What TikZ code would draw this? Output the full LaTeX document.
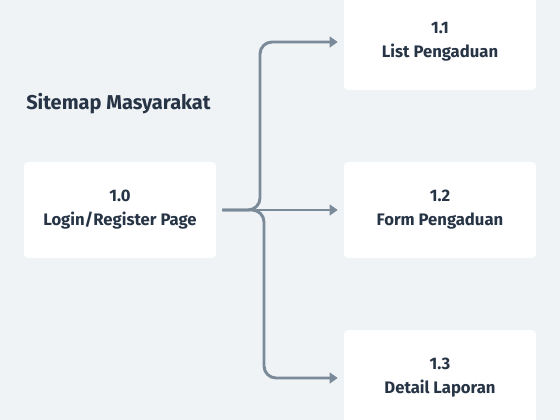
\documentclass[tikz,border=0pt]{standalone}
\usepackage{fontspec}
\setmainfont{Fira Sans}
\usetikzlibrary{arrows.meta}

\definecolor{pagebg}{RGB}{239,243,246}
\definecolor{inktext}{RGB}{38,52,69}
\definecolor{linkgray}{RGB}{123,138,153}

\tikzset{
  page/.style={fill=white, rounded corners=3pt, minimum width=144pt, minimum height=72pt,
    align=center, text=inktext, font=\bfseries\fontsize{12.5}{18}\selectfont},
  link/.style={draw=linkgray, line width=2.2pt, rounded corners=9pt,
    -{Triangle[length=6pt,width=8pt]}},
}

\begin{document}
\begin{tikzpicture}[x=0.75pt,y=0.75pt,yscale=-1,xscale=1]
% background and frame
\fill[pagebg] (0,0) rectangle (560,420);
\useasboundingbox (0,0) rectangle (560,420);

% Title
\node[anchor=west, text=inktext, font=\bfseries\fontsize{15}{18}\selectfont, inner sep=0pt] (title) at (26,104) {Sitemap Masyarakat};

% Pages
\node[page] (main) at (120,210) {1.0\\Login/Register Page};
\node[page] (list) at (440,42) {1.1\\List Pengaduan};
\node[page] (form) at (440,210) {1.2\\Form Pengaduan};
\node[page] (detail) at (440,378) {1.3\\Detail Laporan};

% Links
\coordinate (start) at ([xshift=4.5pt]main.east);
\draw[link] (start) -- (260,210) -- (260,42) -- ([xshift=-4.5pt]list.west);
\draw[link] (start) -- ([xshift=-4.5pt]form.west);
\draw[link] (start) -- (264,210) -- (264,378) -- ([xshift=-4.5pt]detail.west);

\end{tikzpicture}
\end{document}
